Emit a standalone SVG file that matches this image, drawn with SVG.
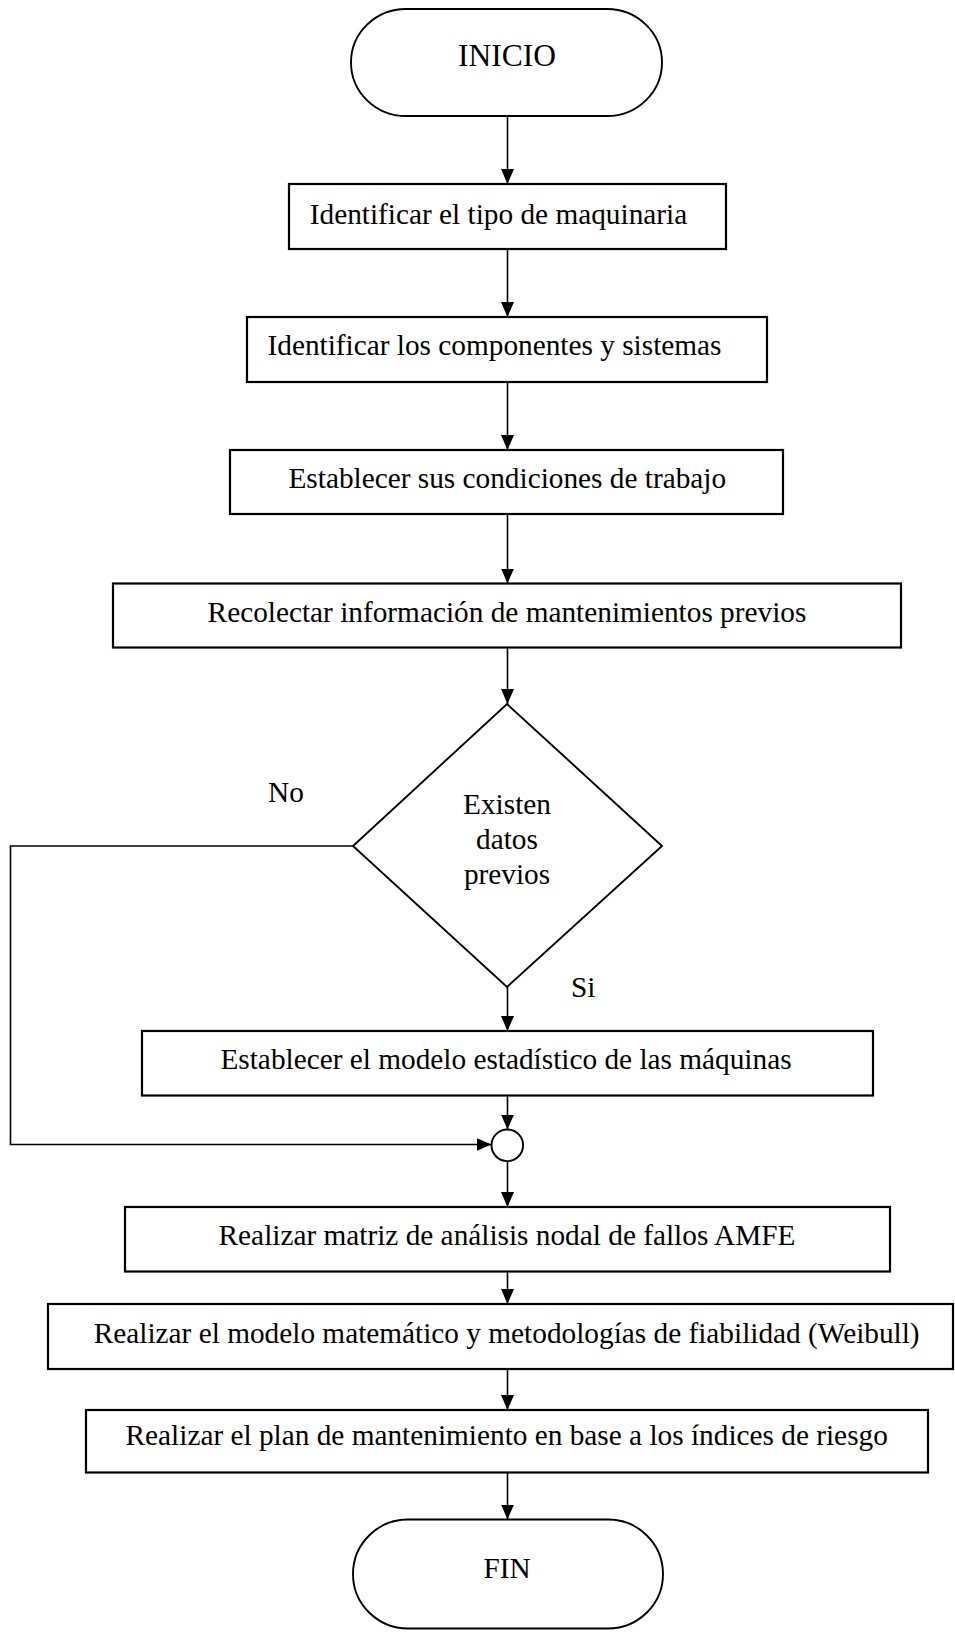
<svg xmlns="http://www.w3.org/2000/svg" width="955" height="1635" viewBox="0 0 955 1635">
  <style>
    .box { fill: #ffffff; stroke: #000000; stroke-width: 2.2; }
    .term { fill: #ffffff; stroke: #000000; stroke-width: 1.9; }
    .dec { fill: #ffffff; stroke: #000000; stroke-width: 1.9; }
    .join { fill: #ffffff; stroke: #000000; stroke-width: 1.9; }
    .edge { fill: none; stroke: #000000; stroke-width: 1.6; marker-end: url(#arrow); }
    .edge-plain { fill: none; stroke: #000000; stroke-width: 1.8; }
    text { font-family: "Liberation Serif", "Times New Roman", serif; font-size: 29.3px; fill: #000000; text-anchor: middle; }
    .lbl { text-anchor: start; }
  </style>
  <defs>
    <marker id="arrow" markerUnits="userSpaceOnUse" markerWidth="15" markerHeight="13" refX="15" refY="6.5" orient="auto">
      <path d="M0,0 L15,6.5 L0,13 Z" fill="#000000"/>
    </marker>
  </defs>

  <!-- connectors -->
  <g id="connectors">
    <line class="edge" x1="507.5" y1="116" x2="507.5" y2="184"/>
    <line class="edge" x1="507.5" y1="249" x2="507.5" y2="317"/>
    <line class="edge" x1="507.5" y1="382" x2="507.5" y2="450"/>
    <line class="edge" x1="507.5" y1="514" x2="507.5" y2="583.5"/>
    <line class="edge" x1="507.5" y1="647.5" x2="507.5" y2="704"/>
    <line class="edge" x1="507.5" y1="987" x2="507.5" y2="1031"/>
    <line class="edge" x1="507.5" y1="1095.5" x2="507.5" y2="1129.5"/>
    <line class="edge" x1="507.5" y1="1161" x2="507.5" y2="1207"/>
    <line class="edge" x1="507.5" y1="1271.5" x2="507.5" y2="1304"/>
    <line class="edge" x1="507.5" y1="1369" x2="507.5" y2="1410"/>
    <line class="edge" x1="507.5" y1="1472.5" x2="507.5" y2="1519.5"/>
    <!-- "No" branch back to the junction -->
    <polyline class="edge" points="353,846 10.5,846 10.5,1144.5 491.5,1144.5"/>
    <text class="lbl" x="268" y="801.7">No</text>
    <text class="lbl" x="571" y="996.7">Si</text>
  </g>

  <g id="start">
    <rect class="term" x="351" y="9" width="311" height="107" rx="55" ry="53.5"/>
    <text x="507" y="65.7" style="font-size:31.5px">INICIO</text>
  </g>

  <g id="step-tipo">
    <rect class="box" x="289" y="184" width="437" height="65"/>
    <text x="498.5" y="224">Identificar el tipo de maquinaria</text>
  </g>

  <g id="step-componentes">
    <rect class="box" x="247" y="317" width="520" height="65"/>
    <text x="494.5" y="355">Identificar los componentes y sistemas</text>
  </g>

  <g id="step-condiciones">
    <rect class="box" x="230" y="450" width="553" height="64"/>
    <text x="507.3" y="488">Establecer sus condiciones de trabajo</text>
  </g>

  <g id="step-recolectar">
    <rect class="box" x="113" y="583.5" width="788" height="64"/>
    <text x="507" y="621.7">Recolectar información de mantenimientos previos</text>
  </g>

  <g id="decision-datos">
    <polygon class="dec" points="507,704 662,846 507,987 353,846"/>
    <text x="507" y="814">Existen</text>
    <text x="507" y="849">datos</text>
    <text x="507" y="884">previos</text>
  </g>

  <g id="step-modelo-estadistico">
    <rect class="box" x="142" y="1031" width="731" height="64.5"/>
    <text x="506" y="1069.3">Establecer el modelo estadístico de las máquinas</text>
  </g>

  <g id="junction">
    <circle class="join" cx="507.3" cy="1145.3" r="15.8"/>
  </g>

  <g id="step-amfe">
    <rect class="box" x="125" y="1207" width="765" height="64.5"/>
    <text x="507" y="1245">Realizar matriz de análisis nodal de fallos AMFE</text>
  </g>

  <g id="step-weibull">
    <rect class="box" x="48" y="1304" width="905" height="65"/>
    <text x="506.7" y="1343.3">Realizar el modelo matemático y metodologías de fiabilidad (Weibull)</text>
  </g>

  <g id="step-plan">
    <rect class="box" x="86" y="1410" width="842" height="62.5"/>
    <text x="506.7" y="1445">Realizar el plan de mantenimiento en base a los índices de riesgo</text>
  </g>

  <g id="end">
    <rect class="term" x="353" y="1519.5" width="310" height="109" rx="55" ry="54.5"/>
    <text x="507" y="1577.7">FIN</text>
  </g>
</svg>
